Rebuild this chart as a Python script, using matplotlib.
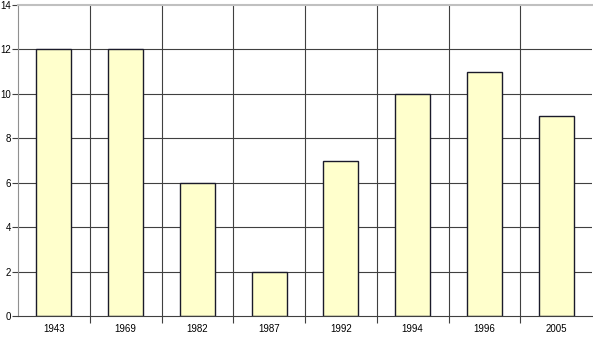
import matplotlib.pyplot as plt
import numpy as np

plt.rcParams['font.family'] = ['Liberation Sans', 'DejaVu Sans']

years = ['1943', '1969', '1982', '1987', '1992', '1994', '1996', '2005']
counts = [12, 12, 6, 2, 7, 10, 11, 9]
yticks = [0, 2, 4, 6, 8, 10, 12, 14]

fig = plt.figure(figsize=(5.93, 3.38), dpi=100)
ax = fig.add_axes([18 / 593, 22 / 338, 574 / 593, 311 / 338])

x = np.arange(len(years))
# grid lines behind the bars
for y in yticks[1:-1]:
    ax.axhline(y, color='#404040', linewidth=0.8, zorder=1)
for b in x[:-1] + 0.5:
    ax.axvline(b, color='#404040', linewidth=0.8, zorder=1)

ax.bar(x, counts, width=0.49, color='#ffffcc', edgecolor='#1a1a2a', linewidth=1.0, zorder=2)

ax.set_xlim(-0.5, len(years) - 0.5)
ax.set_ylim(0, 14)
ax.set_yticks(yticks)
ax.set_yticklabels([str(v) for v in yticks], fontsize=7)

# category ticks sit on the boundaries, labels in the middle
ax.set_xticks(x[:-1] + 0.5)
ax.set_xticklabels([])
ax.set_xticks(x, minor=True)
ax.set_xticklabels(years, minor=True, fontsize=7)
ax.tick_params(axis='x', which='major', length=5, width=0.8, color='#404040')
ax.tick_params(axis='x', which='minor', length=0, pad=6)
ax.tick_params(axis='y', length=4, width=0.8, color='#404040', pad=1)

ax.spines['top'].set_color('#c0c0c0')
ax.spines['top'].set_linewidth(1.5)
ax.spines['right'].set_visible(False)
ax.spines['left'].set_color('#909090')
ax.spines['bottom'].set_color('#404040')

fig.savefig('out.png', dpi=100)
